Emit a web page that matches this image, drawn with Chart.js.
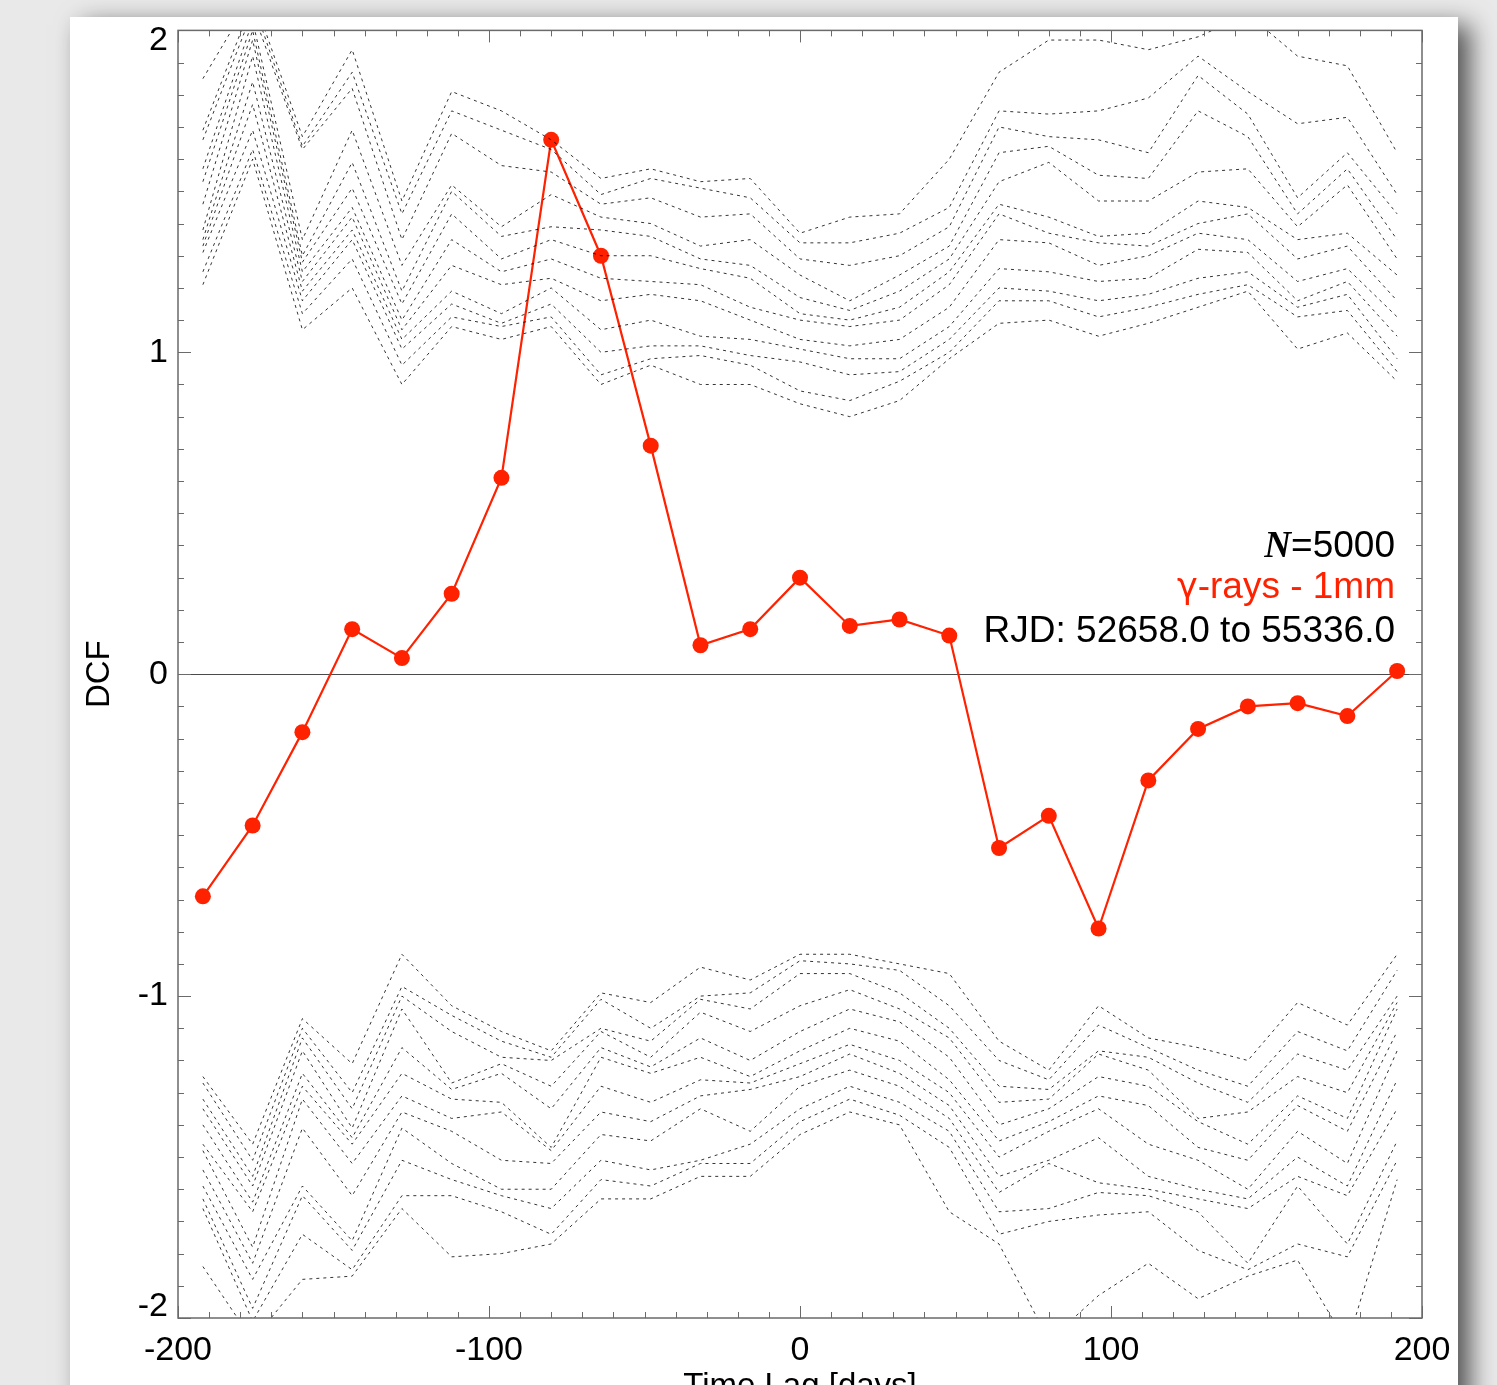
<!DOCTYPE html>
<html>
<head>
<meta charset="utf-8">
<script src="https://cdn.jsdelivr.net/npm/chart.js@4/dist/chart.umd.min.js"></script>
<style>
  html, body { margin: 0; padding: 0; background: #e9e9e9; overflow: hidden; }
  #wrap { position: relative; width: 1497px; height: 1385px; overflow: hidden; }
  #panel { position: absolute; left: 70px; top: 17px; width: 1388px; height: 1500px; background: #fff;
           box-shadow: 12px 8px 24px rgba(0,0,0,0.65); }
  #c { position: absolute; left: 0; top: 0; }
</style>
</head>
<body>
<div id="wrap">
  <div id="panel"></div>
  <canvas id="c" width="1497" height="1440"></canvas>
</div>
<script>
// ---------------- data ----------------
const lags = [-192,-176,-160,-144,-128,-112,-96,-80,-64,-48,-32,-16,0,16,32,48,64,80,96,112,128,144,160,176,192];

const dcfValues = [-0.69,-0.47,-0.18,0.14,0.05,0.25,0.61,1.66,1.30,0.71,0.09,0.14,0.30,0.15,0.17,0.12,-0.54,-0.44,-0.79,-0.33,-0.17,-0.10,-0.09,-0.13,0.01];

// simulated significance curves (upper band)
const upper1  = [1.85,2.11,1.67,1.94,1.47,1.81,1.75,1.66,1.54,1.57,1.53,1.54,1.37,1.42,1.43,1.60,1.87,1.97,1.97,1.94,1.98,2.05,1.92,1.89,1.62];
const upper2  = [1.69,2.09,1.64,1.87,1.43,1.75,1.69,1.63,1.49,1.54,1.51,1.48,1.34,1.34,1.37,1.45,1.75,1.74,1.75,1.79,1.92,1.81,1.71,1.73,1.49];
const upper3  = [1.66,2.06,1.63,1.82,1.35,1.68,1.58,1.56,1.46,1.48,1.42,1.43,1.29,1.27,1.30,1.39,1.70,1.67,1.66,1.62,1.86,1.74,1.48,1.62,1.43];
const upper4  = [1.57,2.03,1.35,1.69,1.27,1.52,1.39,1.49,1.42,1.40,1.33,1.35,1.24,1.16,1.24,1.33,1.62,1.64,1.55,1.54,1.75,1.67,1.43,1.57,1.35];
const upper5  = [1.53,2.00,1.30,1.59,1.19,1.50,1.36,1.39,1.38,1.36,1.29,1.27,1.17,1.13,1.19,1.29,1.53,1.59,1.47,1.47,1.56,1.57,1.39,1.52,1.29];
const upper6  = [1.46,1.97,1.28,1.51,1.15,1.43,1.29,1.35,1.30,1.30,1.26,1.23,1.12,1.10,1.14,1.25,1.46,1.42,1.36,1.37,1.47,1.45,1.35,1.37,1.24];
const upper7  = [1.38,1.92,1.25,1.45,1.10,1.35,1.25,1.29,1.23,1.22,1.21,1.14,1.10,1.08,1.10,1.21,1.43,1.37,1.34,1.33,1.40,1.43,1.29,1.33,1.16];
const upper8  = [1.35,1.84,1.22,1.42,1.07,1.27,1.21,1.23,1.16,1.18,1.16,1.10,1.04,1.02,1.04,1.14,1.35,1.34,1.27,1.30,1.37,1.35,1.22,1.26,1.11];
const upper9  = [1.33,1.77,1.19,1.38,1.04,1.19,1.12,1.20,1.07,1.10,1.05,1.04,1.01,0.98,0.98,1.08,1.26,1.25,1.22,1.23,1.32,1.31,1.16,1.22,1.05];
const upper10 = [1.31,1.69,1.16,1.35,1.01,1.15,1.09,1.15,1.00,1.02,1.02,0.99,0.97,0.93,0.94,1.04,1.20,1.19,1.16,1.18,1.23,1.25,1.14,1.18,0.98];
const upper11 = [1.25,1.63,1.12,1.29,0.96,1.11,1.08,1.11,0.93,0.98,0.99,0.96,0.88,0.85,0.91,1.00,1.16,1.16,1.11,1.14,1.18,1.21,1.11,1.13,0.94];
const upper12 = [1.21,1.60,1.07,1.20,0.90,1.08,1.04,1.08,0.90,0.96,0.90,0.90,0.84,0.80,0.85,0.98,1.09,1.10,1.05,1.09,1.14,1.19,1.01,1.06,0.91];

// simulated significance curves (lower band)
const lower1  = [-1.25,-1.46,-1.07,-1.21,-0.87,-1.03,-1.11,-1.17,-0.99,-1.02,-0.91,-0.95,-0.87,-0.87,-0.90,-0.93,-1.14,-1.23,-1.03,-1.13,-1.16,-1.20,-1.02,-1.09,-0.87];
const lower2  = [-1.27,-1.51,-1.10,-1.30,-0.97,-1.06,-1.14,-1.19,-1.01,-1.10,-1.00,-0.99,-0.89,-0.90,-0.92,-1.03,-1.20,-1.26,-1.09,-1.16,-1.23,-1.28,-1.11,-1.17,-0.92];
const lower3  = [-1.32,-1.56,-1.13,-1.35,-1.00,-1.11,-1.19,-1.20,-1.10,-1.14,-1.01,-1.04,-0.93,-0.93,-0.99,-1.10,-1.28,-1.29,-1.17,-1.19,-1.27,-1.33,-1.18,-1.23,-1.00];
const lower4  = [-1.35,-1.59,-1.17,-1.41,-1.04,-1.27,-1.21,-1.28,-1.11,-1.19,-1.05,-1.11,-1.03,-0.98,-1.04,-1.13,-1.33,-1.32,-1.18,-1.23,-1.38,-1.36,-1.25,-1.30,-1.02];
const lower5  = [-1.40,-1.64,-1.24,-1.44,-1.16,-1.29,-1.24,-1.35,-1.16,-1.22,-1.13,-1.20,-1.11,-1.04,-1.08,-1.19,-1.40,-1.35,-1.25,-1.28,-1.39,-1.46,-1.31,-1.38,-1.04];
const lower6  = [-1.46,-1.67,-1.28,-1.46,-1.24,-1.32,-1.33,-1.47,-1.19,-1.24,-1.19,-1.25,-1.17,-1.10,-1.14,-1.26,-1.45,-1.39,-1.31,-1.34,-1.47,-1.51,-1.34,-1.42,-1.11];
const lower7  = [-1.48,-1.78,-1.32,-1.52,-1.31,-1.38,-1.36,-1.48,-1.28,-1.33,-1.26,-1.27,-1.21,-1.15,-1.20,-1.30,-1.50,-1.42,-1.35,-1.46,-1.51,-1.60,-1.42,-1.52,-1.17];
const lower8  = [-1.54,-1.83,-1.41,-1.62,-1.36,-1.42,-1.51,-1.52,-1.36,-1.39,-1.31,-1.29,-1.25,-1.18,-1.24,-1.34,-1.56,-1.51,-1.44,-1.56,-1.60,-1.63,-1.50,-1.59,-1.26];
const lower9  = [-1.59,-1.88,-1.59,-1.76,-1.41,-1.52,-1.60,-1.60,-1.43,-1.45,-1.35,-1.42,-1.28,-1.23,-1.28,-1.38,-1.61,-1.52,-1.58,-1.60,-1.63,-1.66,-1.56,-1.62,-1.35];
const lower10 = [-1.63,-1.97,-1.62,-1.79,-1.51,-1.57,-1.62,-1.66,-1.51,-1.54,-1.51,-1.46,-1.35,-1.28,-1.33,-1.42,-1.67,-1.66,-1.61,-1.62,-1.67,-1.83,-1.59,-1.77,-1.45];
const lower11 = [-1.66,-2.01,-1.74,-1.85,-1.62,-1.62,-1.67,-1.74,-1.57,-1.59,-1.52,-1.52,-1.39,-1.32,-1.37,-1.47,-1.74,-1.70,-1.68,-1.67,-1.79,-1.85,-1.77,-1.81,-1.51];
const lower12 = [-1.84,-2.07,-1.88,-1.87,-1.66,-1.81,-1.80,-1.77,-1.63,-1.63,-1.56,-1.56,-1.43,-1.36,-1.40,-1.67,-1.77,-2.07,-1.93,-1.83,-1.94,-1.87,-1.82,-2.08,-1.57];

const xTickValues = [-200, -100, 0, 100, 200];
const yTickValues = [-2, -1, 0, 1, 2];
const infoN = '=5000';
const infoGamma = 'γ';
const infoBand = '-rays - 1mm';
const infoRange = 'RJD: 52658.0 to 55336.0';

// ---------------- chart ----------------
const RED = 'rgb(255,34,0)';
const FONT = '"Liberation Sans", Arial, Helvetica, sans-serif';

const simCurves = [upper1,upper2,upper3,upper4,upper5,upper6,upper7,upper8,upper9,upper10,upper11,upper12,
                   lower1,lower2,lower3,lower4,lower5,lower6,lower7,lower8,lower9,lower10,lower11,lower12];

const toXY = vals => lags.map((x, i) => ({ x: x, y: vals[i] }));

const datasets = simCurves.map(vals => ({
  data: toXY(vals),
  borderColor: 'rgba(0,0,0,0.8)',
  borderWidth: 1,
  borderDash: [3, 4],
  pointRadius: 0,
  tension: 0,
  fill: false
}));
datasets.push({
  data: toXY(dcfValues),
  borderColor: RED,
  borderWidth: 2.2,
  pointRadius: 8,
  pointBackgroundColor: RED,
  pointBorderWidth: 0,
  tension: 0,
  fill: false
});

const decorPlugin = {
  id: 'decor',
  beforeDraw(chart) {
    try {
      const items = chart.scales.y.getLabelItems();
      items.forEach(it => {
        if (it.label === '2') it.options.translation[1] += 10;
        if (it.label === '-2') it.options.translation[1] -= 11;
      });
    } catch (e) {}
  },
  beforeDatasetsDraw(chart) {
    const { ctx, chartArea: a, scales: { y } } = chart;
    ctx.save();
    ctx.strokeStyle = '#4a4a4a';
    ctx.lineWidth = 1;
    const py = Math.round(y.getPixelForValue(0)) + 0.5;
    ctx.beginPath(); ctx.moveTo(a.left, py); ctx.lineTo(a.right, py); ctx.stroke();
    ctx.restore();
  },
  afterDraw(chart) {
    const { ctx, chartArea: a, scales: { x, y } } = chart;
    ctx.save();
    ctx.strokeStyle = '#6a6a6a';
    ctx.lineWidth = 1;
    const line = (x1, y1, x2, y2) => { ctx.beginPath(); ctx.moveTo(x1, y1); ctx.lineTo(x2, y2); ctx.stroke(); };
    for (let v = x.min; v <= x.max; v += 10) {
      const px = Math.round(x.getPixelForValue(v)) + 0.5;
      const len = (xTickValues.includes(v)) ? 12 : 6;
      line(px, a.bottom, px, a.bottom - len);
      line(px, a.top, px, a.top + len);
    }
    for (let i = -20; i <= 20; i++) {
      const v = i / 10;
      const py = Math.round(y.getPixelForValue(v)) + 0.5;
      const len = (i % 10 === 0) ? 13 : 6;
      line(a.left, py, a.left + len, py);
      line(a.right, py, a.right - len, py);
    }
    ctx.lineWidth = 1.5;
    ctx.strokeRect(a.left, a.top, a.right - a.left, a.bottom - a.top);
    ctx.restore();

    // annotation text
    ctx.save();
    const rx = a.right - 27;
    ctx.textAlign = 'right';
    ctx.textBaseline = 'alphabetic';
    ctx.font = '37px ' + FONT;
    ctx.fillStyle = '#000';
    ctx.fillText(infoN, rx, a.top + 527);
    const wN = ctx.measureText(infoN).width;
    ctx.fillText(infoRange, rx, a.top + 612);
    ctx.fillStyle = RED;
    ctx.fillText(infoBand, rx, a.top + 568);
    const wB = ctx.measureText(infoBand).width;
    ctx.font = '35px "DejaVu Sans", "Noto Sans", sans-serif';
    ctx.fillText(infoGamma, rx - wB, a.top + 568);
    ctx.fillStyle = '#000';
    ctx.font = 'italic bold 37px "Liberation Serif", "Times New Roman", serif';
    ctx.fillText('N', rx - wN, a.top + 527);
    ctx.restore();
  }
};

Chart.defaults.font.family = FONT;
Chart.defaults.color = '#000';

new Chart(document.getElementById('c'), {
  type: 'line',
  data: { datasets },
  options: {
    responsive: false,
    animation: false,
    layout: { padding: { left: 0, top: 30, right: 75, bottom: 0 } },
    plugins: { legend: { display: false }, tooltip: { enabled: false } },
    scales: {
      x: {
        type: 'linear',
        min: -200, max: 200,
        afterBuildTicks: s => { s.ticks = xTickValues.map(v => ({ value: v })); },
        afterFit: s => { s.height = 122; },
        grid: { display: false, drawTicks: false },
        border: { display: false },
        ticks: { font: { size: 34 }, padding: 12, maxRotation: 0, autoSkip: false, callback: v => String(v) },
        title: { display: true, text: 'Time Lag [days]', font: { size: 33 }, padding: { top: 0, bottom: 33 } }
      },
      y: {
        type: 'linear',
        min: -2, max: 2,
        afterBuildTicks: s => { s.ticks = yTickValues.map(v => ({ value: v })); },
        afterFit: s => { s.width = 178; },
        grid: { display: false, drawTicks: false },
        border: { display: false },
        ticks: { font: { size: 34 }, padding: 10, autoSkip: false, callback: v => String(v) },
        title: { display: true, text: 'DCF', font: { size: 33 }, padding: { top: 80, bottom: 0 } }
      }
    }
  },
  plugins: [decorPlugin]
});
</script>
</body>
</html>
